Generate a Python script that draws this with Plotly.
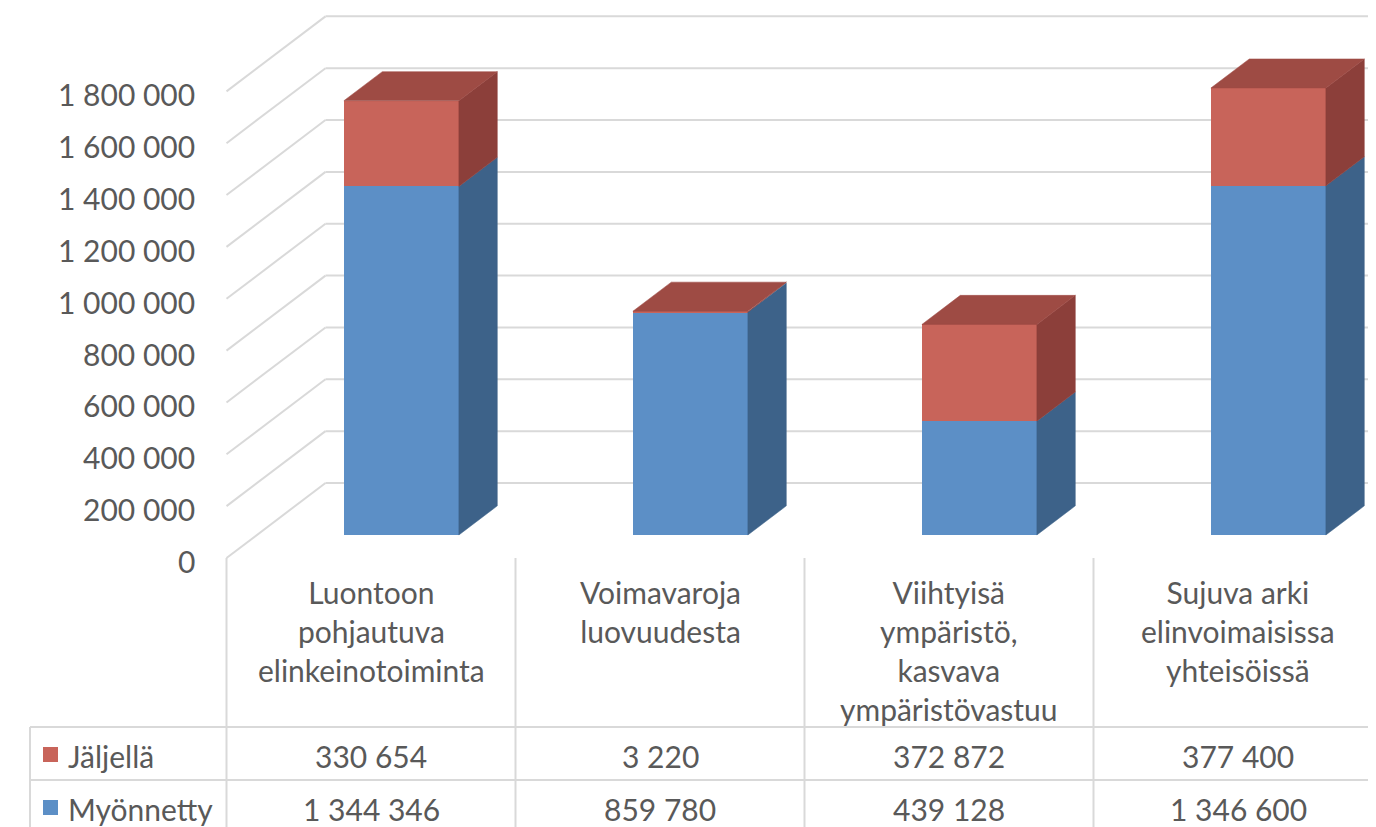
import plotly.graph_objects as go

# ---------------- data ----------------
categories = [
    "Luontoon<br>pohjautuva<br>elinkeinotoiminta",
    "Voimavaroja<br>luovuudesta",
    "Viihtyisä<br>ympäristö,<br>kasvava<br>ympäristövastuu",
    "Sujuva arki<br>elinvoimaisissa<br>yhteisöissä",
]
series_names = ["Jäljellä", "Myönnetty"]
jaljella = [330654, 3220, 372872, 377400]
myonnetty = [1344346, 859780, 439128, 1346600]
y_ticks = [0, 200000, 400000, 600000, 800000, 1000000, 1200000, 1400000, 1600000, 1800000]
y_tick_labels = ["0", "200 000", "400 000", "600 000", "800 000", "1 000 000",
                 "1 200 000", "1 400 000", "1 600 000", "1 800 000"]

# ---------------- styling / geometry (screen pixels) ----------------
W, H = 1376, 827
OFF = 8                 # page body margin around the figure
PX_PER_CAT = 289.0
X0_PX = 371.0           # centre of first category on the front plane
Y0_PX = 558.0           # value 0 on the front plane
PX_PER_VAL = 51.85 / 200000
DEPTH_DX_PX, DEPTH_DY_PX = 99.0, 75.0
BAR_D0, BAR_D1 = 0.307, 0.695
BAR_W = 115.0 / PX_PER_CAT

FONT = "Lato"
TXT = "#595959"
GRID = "#D9D9D9"
BLUE_F, BLUE_S = "#5C8FC6", "#3D6289"
RED_F, RED_T, RED_S = "#C8645A", "#9E4B44", "#8C3F3A"


def xpx(p):
    return (p - X0_PX) / PX_PER_CAT


def ypx(p):
    return (Y0_PX - p) / PX_PER_VAL


DX = DEPTH_DX_PX / PX_PER_CAT
DY = DEPTH_DY_PX / PX_PER_VAL
XR_END = xpx(OFF + W) + 0.2

fig = go.Figure()
shapes = []
annotations = []

# gridlines: left wall diagonal + back wall horizontal
for v in y_ticks:
    shapes.append(dict(type="line", xref="x", yref="y", layer="below",
                       x0=-0.5, y0=v, x1=-0.5 + DX, y1=v + DY,
                       line=dict(color=GRID, width=2)))
    shapes.append(dict(type="line", xref="x", yref="y", layer="below",
                       x0=-0.5 + DX, y0=v + DY, x1=XR_END, y1=v + DY,
                       line=dict(color=GRID, width=2)))

# y tick labels
for v, lab in zip(y_ticks, y_tick_labels):
    annotations.append(dict(x=-0.5, y=v, xref="x", yref="y", text=lab,
                            showarrow=False, xanchor="right", yanchor="middle",
                            xshift=-30, yshift=-3,
                            font=dict(family=FONT, size=30, color=TXT)))

# bars (front faces)
n = len(categories)
xc = [i + BAR_D0 * DX for i in range(n)]
b0 = BAR_D0 * DY
fig.add_trace(go.Bar(x=xc, y=myonnetty, base=[b0] * n, width=BAR_W,
                     marker=dict(color=BLUE_F, line=dict(width=0)),
                     name=series_names[1], showlegend=False))
fig.add_trace(go.Bar(x=xc, y=jaljella, base=[b0 + m for m in myonnetty], width=BAR_W,
                     marker=dict(color=RED_F, line=dict(width=0)),
                     name=series_names[0], showlegend=False))

# side and top faces
dd = BAR_D1 - BAR_D0
sx, sy = dd * DX, dd * DY


def poly(xs, ys, color):
    fig.add_trace(go.Scatter(x=xs + [xs[0]], y=ys + [ys[0]], mode="lines",
                             fill="toself", fillcolor=color,
                             line=dict(color=color, width=0.5),
                             hoverinfo="skip", showlegend=False))


for i in range(n):
    xl = xc[i] - BAR_W / 2
    xr = xc[i] + BAR_W / 2
    m, j = myonnetty[i], jaljella[i]
    poly([xr, xr + sx, xr + sx, xr], [b0, b0 + sy, b0 + m + sy, b0 + m], BLUE_S)
    poly([xr, xr + sx, xr + sx, xr], [b0 + m, b0 + m + sy, b0 + m + j + sy, b0 + m + j], RED_S)
    top = b0 + m + j
    poly([xl, xr, xr + sx, xl + sx], [top, top, top + sy, top + sy], RED_T)

# ---------------- data table ----------------
line_t = dict(color=GRID, width=2)
for py in (727, 780):
    shapes.append(dict(type="line", xref="x", yref="y", x0=xpx(30), x1=XR_END,
                       y0=ypx(py), y1=ypx(py), line=line_t))
shapes.append(dict(type="line", xref="x", yref="y", x0=xpx(30), x1=xpx(30),
                   y0=ypx(727), y1=ypx(OFF + H + 5), line=line_t))
for k in range(n + 1):
    shapes.append(dict(type="line", xref="x", yref="y", x0=-0.5 + k, x1=-0.5 + k,
                       y0=0, y1=ypx(OFF + H + 5), line=line_t))

# category labels
for i, c in enumerate(categories):
    annotations.append(dict(x=i, y=ypx(572), xref="x", yref="y", text=c,
                            showarrow=False, xanchor="center", yanchor="top",
                            align="center", font=dict(family=FONT, size=30, color=TXT)))

# legend keys + row labels + values
rows = [(series_names[0], RED_F, jaljella, 756), (series_names[1], BLUE_F, myonnetty, 809)]
for name, col, vals, cy in rows:
    shapes.append(dict(type="rect", xref="x", yref="y", x0=xpx(43), x1=xpx(58),
                       y0=ypx(cy - 9), y1=ypx(cy + 6), fillcolor=col, line=dict(width=0)))
    annotations.append(dict(x=xpx(66), y=ypx(cy), xref="x", yref="y", text=name,
                            showarrow=False, xanchor="left", yanchor="middle",
                            font=dict(family=FONT, size=30, color=TXT)))
    for i, v in enumerate(vals):
        annotations.append(dict(x=i, y=ypx(cy), xref="x", yref="y",
                                text=f"{v:,}".replace(",", " "),
                                showarrow=False, xanchor="center", yanchor="middle",
                                font=dict(family=FONT, size=30, color=TXT)))

fig.update_layout(
    width=W, height=H,
    margin=dict(l=0, r=0, t=0, b=0, pad=0),
    paper_bgcolor="white", plot_bgcolor="white",
    barmode="overlay", bargap=0,
    showlegend=False,
    shapes=shapes, annotations=annotations,
    xaxis=dict(range=[xpx(OFF), xpx(OFF + W)], visible=False, fixedrange=True),
    yaxis=dict(range=[ypx(OFF + H), ypx(OFF)], visible=False, fixedrange=True),
)

fig.write_html("out.html")
